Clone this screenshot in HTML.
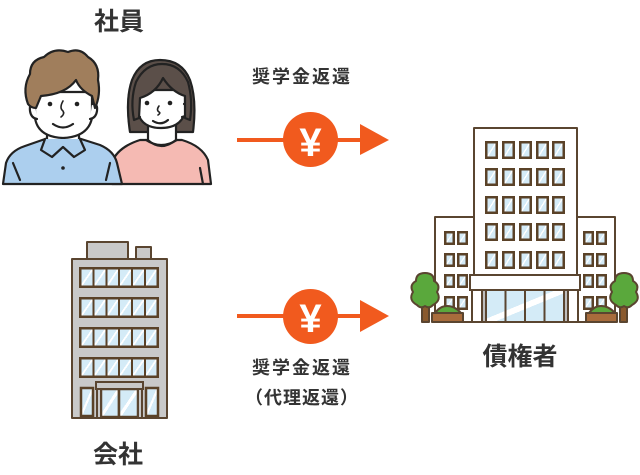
<!DOCTYPE html>
<html><head><meta charset="utf-8"><style>
html,body{margin:0;padding:0;background:#fff;}
svg{display:block;}
text{font-family:"Liberation Sans","Noto Sans CJK JP",sans-serif;}
</style></head><body>
<svg width="640" height="475" viewBox="0 0 640 475" xmlns="http://www.w3.org/2000/svg">
<!-- Labels -->
<text x="119" y="30" font-size="25" font-weight="bold" fill="#333" text-anchor="middle">社員</text>
<text x="118" y="463" font-size="25" font-weight="bold" fill="#333" text-anchor="middle">会社</text>
<text x="520" y="365" font-size="25" font-weight="bold" fill="#333" text-anchor="middle">債権者</text>
<text x="302" y="83" font-size="18" font-weight="bold" fill="#333" text-anchor="middle" letter-spacing="2">奨学金返還</text>
<text x="302" y="374" font-size="18" font-weight="bold" fill="#333" text-anchor="middle" letter-spacing="2">奨学金返還</text>
<text x="302" y="404" font-size="18" font-weight="bold" fill="#333" text-anchor="middle" letter-spacing="1">（代理返還）</text>

<!-- Arrows -->
<g fill="#f15a1e" stroke="none">
<rect x="237" y="138" width="125" height="4"/>
<polygon points="360,124 389,140 360,155"/>
<circle cx="310.5" cy="139.5" r="27.5"/>
<rect x="237" y="314" width="125" height="4"/>
<polygon points="360,300 389,316 360,332"/>
<circle cx="310.5" cy="316.5" r="27.5"/>
</g>
<text x="310.5" y="156" font-size="40" font-weight="bold" fill="#fff" text-anchor="middle">¥</text>
<text x="310.5" y="332" font-size="40" font-weight="bold" fill="#fff" text-anchor="middle">¥</text>

<!-- People -->
<g stroke="#222" stroke-width="2.2" stroke-linejoin="round" stroke-linecap="round">
<!-- woman -->
<path d="M130,132 Q125,100 132,80 Q140,60 160,60 Q182,60 190,80 Q197,100 193,132 Z" fill="#5b4f49"/>
<path d="M112,184 L112,162 Q118,147 140,140 L182,140 Q202,146 208,160 L211,184 Z" fill="#f5bab3"/>
<path d="M148,118 L148,140 Q161,152 176,140 L176,118 Z" fill="#fff"/>
<path d="M138,90 L138,113 Q142,128 161,128 Q180,128 185,113 L185,90 Z" fill="#fff"/>
<path d="M138,104 Q133,103 134,110 Q135,116 140,117" fill="#fff"/>
<path d="M184,104 Q189,103 188,110 Q187,116 182,117" fill="#fff"/>
<path d="M134,120 Q130,100 136,82 Q145,64 162,64 Q180,64 188,82 Q193,100 190,120 L185,118 L185,96 Q172,92 163,78 Q156,93 140,98 L139,118 Z" fill="#5b4f49"/>
<path d="M146,140 Q161,150 177,140" fill="none"/>
<line x1="200" y1="168" x2="203" y2="184"/>
<path d="M153,121 Q161,126 168,120" fill="none"/>
<path d="M159,106 Q156,110 159,112 Q161,113 158,115" fill="none" stroke-width="1.6"/>
<!-- man -->
<path d="M3,184 L6,163 Q10,151 25,146 L48,138 L78,138 L100,145 Q114,151 117,163 L122,184 Z" fill="#accfee"/>
<path d="M47,124 L47,142 L79,142 L79,124 Z" fill="#fff"/>
<path d="M35,92 L35,118 Q38,137 63,138 Q88,137 92,118 L92,92 Z" fill="#fff"/>
<path d="M35,104 Q29,103 30,111 Q31,118 37,119" fill="#fff"/>
<path d="M92,104 Q98,103 97,111 Q96,118 90,119" fill="#fff"/>
<path d="M28,104 Q22,88 30,74 Q30,60 44,57 Q54,47 68,52 Q80,47 88,57 Q100,64 98,80 Q101,95 95,108 L92,96 Q80,90 76,80 Q66,94 41,96 L36,108 Q31,108 28,104 Z" fill="#a07e5c"/>
<path d="M45,139 L41,150 L52,157 L63,147 L74,157 L85,150 L80,139" fill="#accfee"/>
<line x1="13" y1="163" x2="20" y2="180"/>
<line x1="110" y1="163" x2="106" y2="180"/>
<path d="M53,124 Q63,131 73,124" fill="none"/>
<path d="M63,101 Q59,108 63,111 Q65,114 61,117" fill="none" stroke-width="1.6"/>
</g>
<g fill="#222">
<circle cx="50" cy="104" r="2.3"/><circle cx="77" cy="104" r="2.3"/>
<circle cx="63" cy="168" r="1.8"/>
<circle cx="147" cy="103" r="2.3"/><circle cx="170" cy="103" r="2.3"/>
</g>

<!-- Company building -->
<g stroke="#5a4530" stroke-width="2" stroke-linejoin="round">
<rect x="87" y="242" width="41" height="17" fill="#c9c9c9"/>
<rect x="136" y="247" width="15" height="12" fill="#c9c9c9"/>
<rect x="72" y="259" width="95" height="159" fill="#c9c9c9"/>
</g>
<defs>
<linearGradient id="gl" x1="0" y1="0" x2="1" y2="1">
<stop offset="0" stop-color="#d4ebf7"/><stop offset="0.45" stop-color="#d4ebf7"/>
<stop offset="0.45" stop-color="#fff"/><stop offset="0.55" stop-color="#fff"/>
<stop offset="0.55" stop-color="#d4ebf7"/><stop offset="1" stop-color="#d4ebf7"/>
</linearGradient>
<g id="crow">
<rect x="0" y="0" width="80" height="21" fill="#5a4228"/>
<rect x="2.5" y="2.5" width="11" height="16" fill="url(#gl)"/>
<rect x="15.5" y="2.5" width="11" height="16" fill="url(#gl)"/>
<rect x="28.5" y="2.5" width="10.5" height="16" fill="url(#gl)"/>
<rect x="41" y="2.5" width="11" height="16" fill="url(#gl)"/>
<rect x="54" y="2.5" width="11" height="16" fill="url(#gl)"/>
<rect x="67" y="2.5" width="10.5" height="16" fill="url(#gl)"/>
</g>
<g id="twin"><rect x="0" y="0" width="13" height="18" fill="#5a4228"/><rect x="2.5" y="2.5" width="8" height="13" fill="url(#gl)"/></g>
<g id="wwin"><rect x="0" y="0" width="11" height="14" fill="#5a4228"/><rect x="2.5" y="2.5" width="6" height="9" fill="url(#gl)"/></g>
</defs>
<use href="#crow" x="79" y="267"/>
<use href="#crow" x="79" y="297"/>
<use href="#crow" x="79" y="327"/>
<use href="#crow" x="79" y="357"/>
<g stroke="#5a4228" stroke-width="2.5">
<rect x="81" y="388" width="12" height="28" fill="url(#gl)"/>
<rect x="146" y="388" width="12" height="28" fill="url(#gl)"/>
<rect x="101" y="389" width="18" height="28" fill="url(#gl)"/>
<rect x="119" y="389" width="19" height="28" fill="url(#gl)"/>
</g>
<g stroke="#5a4530" stroke-width="2">
<rect x="96" y="382" width="47" height="7" fill="#c9c9c9"/>
<rect x="97" y="389" width="4" height="29" fill="#c9c9c9"/>
<rect x="138" y="389" width="4" height="29" fill="#c9c9c9"/>
</g>

<!-- Creditor building -->
<g stroke="#5a4530" stroke-width="2" stroke-linejoin="round">
<rect x="435" y="217" width="39" height="105" fill="#fff"/>
<rect x="576" y="217" width="39" height="105" fill="#fff"/>
<rect x="474" y="128" width="103" height="194" fill="#fff"/>
</g>
<g>
<use href="#twin" x="485" y="141"/><use href="#twin" x="502" y="141"/><use href="#twin" x="519" y="141"/><use href="#twin" x="536" y="141"/><use href="#twin" x="552" y="141"/>
<use href="#twin" x="485" y="168"/><use href="#twin" x="502" y="168"/><use href="#twin" x="519" y="168"/><use href="#twin" x="536" y="168"/><use href="#twin" x="552" y="168"/>
<use href="#twin" x="485" y="196"/><use href="#twin" x="502" y="196"/><use href="#twin" x="519" y="196"/><use href="#twin" x="536" y="196"/><use href="#twin" x="552" y="196"/>
<use href="#twin" x="485" y="223"/><use href="#twin" x="502" y="223"/><use href="#twin" x="519" y="223"/><use href="#twin" x="536" y="223"/><use href="#twin" x="552" y="223"/>
<use href="#twin" x="485" y="251"/><use href="#twin" x="502" y="251"/><use href="#twin" x="519" y="251"/><use href="#twin" x="536" y="251"/><use href="#twin" x="552" y="251"/>
<use href="#wwin" x="444" y="231"/><use href="#wwin" x="457" y="231"/>
<use href="#wwin" x="444" y="253"/><use href="#wwin" x="457" y="253"/>
<use href="#wwin" x="444" y="274"/><use href="#wwin" x="457" y="274"/>
<use href="#wwin" x="444" y="296"/><use href="#wwin" x="457" y="296"/>
<use href="#wwin" x="583" y="231"/><use href="#wwin" x="596" y="231"/>
<use href="#wwin" x="583" y="253"/><use href="#wwin" x="596" y="253"/>
<use href="#wwin" x="583" y="274"/><use href="#wwin" x="596" y="274"/>
<use href="#wwin" x="583" y="296"/><use href="#wwin" x="596" y="296"/>
</g>
<!-- entrance -->
<g stroke="#5a4530" stroke-width="2">
<rect x="486" y="290" width="78" height="32" fill="url(#gl)"/>
<line x1="505.5" y1="290" x2="505.5" y2="322"/>
<line x1="525" y1="290" x2="525" y2="322"/>
<line x1="544.5" y1="290" x2="544.5" y2="322"/>
<rect x="482" y="290" width="4" height="32" fill="#bdbdbd"/>
<rect x="564" y="290" width="4" height="32" fill="#bdbdbd"/>
<rect x="472" y="290" width="10" height="32" fill="#fff"/>
<rect x="568" y="290" width="10" height="32" fill="#fff"/>
<rect x="470" y="275" width="110" height="15" fill="#fff"/>
</g>
<!-- trees & planters -->
<g stroke="#5a4530" stroke-width="2" stroke-linejoin="round">
<rect x="422" y="302" width="7" height="20" fill="#8a5a2e"/>
<path d="M425,273 Q434,273 434,281 Q441,285 437,292 Q442,300 433,305 Q429,309 425,306 Q421,309 417,305 Q408,300 413,292 Q409,285 416,281 Q416,273 425,273 Z" fill="#5aa83c"/>
<rect x="620" y="302" width="7" height="20" fill="#8a5a2e"/>
<path d="M624,273 Q633,273 633,281 Q640,285 636,292 Q641,300 632,305 Q628,309 624,306 Q620,309 616,305 Q607,300 612,292 Q608,285 615,281 Q615,273 624,273 Z" fill="#5aa83c"/>
<path d="M435,313 Q440,306 447,306 Q455,306 461,313 Z" fill="#5aa83c"/>
<rect x="432" y="313" width="31" height="9" fill="#a86c3c"/>
<path d="M589,313 Q594,306 601,306 Q609,306 615,313 Z" fill="#5aa83c"/>
<rect x="586" y="313" width="31" height="9" fill="#a86c3c"/>
</g>
</svg>
</body></html>
